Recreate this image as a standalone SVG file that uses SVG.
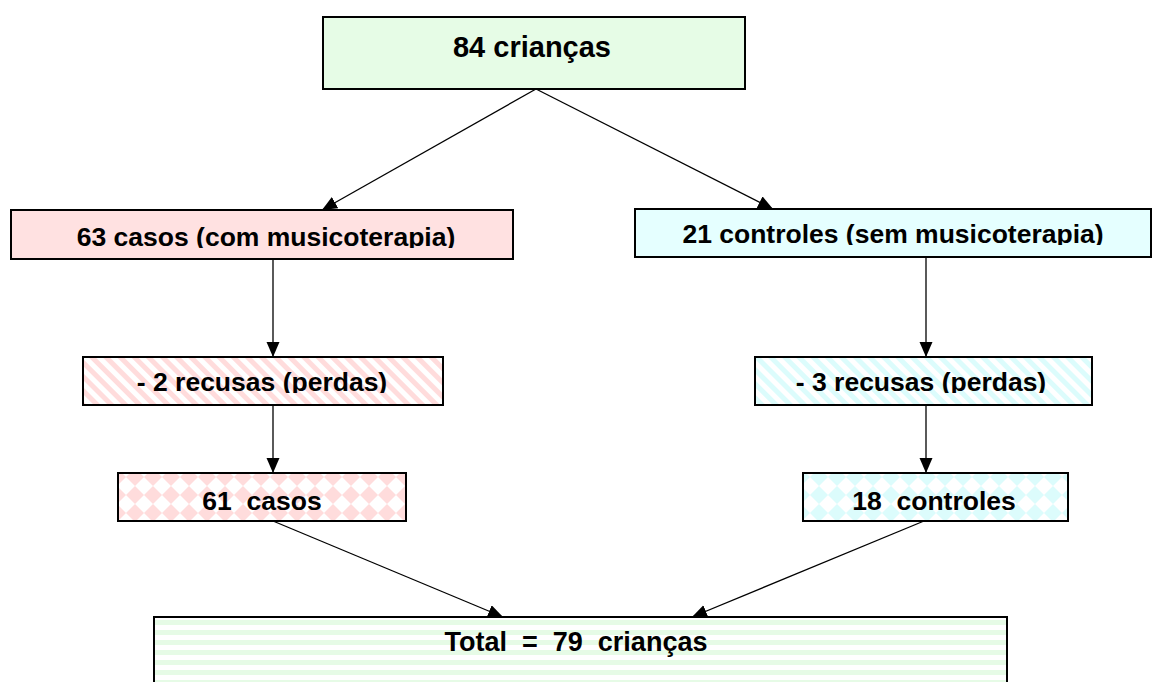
<svg xmlns="http://www.w3.org/2000/svg" width="1152" height="682" viewBox="0 0 1152 682">
<style>
.box{stroke:#000;stroke-width:2}
.t{font-family:"Liberation Sans",Arial,sans-serif;font-weight:bold;font-size:26.5px;fill:#000;text-anchor:middle;white-space:pre}
.c{stroke:#000;stroke-width:1.3;fill:none;marker-end:url(#ah)}
</style>
<defs>
<marker id="ah" markerUnits="userSpaceOnUse" markerWidth="16" markerHeight="14" refX="15" refY="6.5" orient="auto">
<path d="M0,0 L15,6.5 L0,13 Z" fill="#000"/>
</marker>
<pattern id="stripePink" patternUnits="userSpaceOnUse" width="10" height="10" patternTransform="rotate(-45)">
<rect width="10" height="10" fill="#fff"/><rect width="5" height="10" fill="#ffdcdc"/>
</pattern>
<pattern id="stripeCyan" patternUnits="userSpaceOnUse" width="10" height="10" patternTransform="rotate(-45)">
<rect width="10" height="10" fill="#fff"/><rect width="5" height="10" fill="#dcfcfc"/>
</pattern>
<pattern id="diaPink" patternUnits="userSpaceOnUse" width="18" height="18">
<rect width="18" height="18" fill="#fff"/><polygon points="9,0 18,9 9,18 0,9" fill="#ffdcdc"/>
</pattern>
<pattern id="diaCyan" patternUnits="userSpaceOnUse" width="18" height="18">
<rect width="18" height="18" fill="#fff"/><polygon points="9,0 18,9 9,18 0,9" fill="#dcfcfc"/>
</pattern>
<pattern id="hGreen" patternUnits="userSpaceOnUse" width="10" height="10">
<rect width="10" height="10" fill="#fff"/><rect width="10" height="5" fill="#e6fbe6"/>
</pattern>
<clipPath id="cl2"><rect x="0" y="200" width="600" height="48"/></clipPath>
<clipPath id="cl3"><rect x="600" y="200" width="552" height="45"/></clipPath>
<clipPath id="cl4"><rect x="0" y="350" width="600" height="43"/></clipPath>
<clipPath id="cl5"><rect x="600" y="350" width="552" height="43"/></clipPath>
</defs>
<g id="connectors">
<line class="c" x1="536" y1="89" x2="322" y2="210"/>
<line class="c" x1="536" y1="89" x2="773" y2="209"/>
<line class="c" x1="273" y1="259" x2="273" y2="357"/>
<line class="c" x1="926" y1="257" x2="926" y2="357"/>
<line class="c" x1="273" y1="405" x2="273" y2="473"/>
<line class="c" x1="926" y1="405" x2="926" y2="473"/>
<line class="c" x1="273" y1="521" x2="503" y2="617"/>
<line class="c" x1="924" y1="521" x2="692" y2="617"/>
</g>
<g id="n1">
<rect class="box" x="323" y="17" width="422" height="72" fill="#e6fce6"/>
<text class="t" x="532" y="57" style="font-size:29px">84 crianças</text>
</g>
<g id="n2">
<rect class="box" x="11" y="210" width="502" height="49" fill="#ffe1e1"/>
<text class="t" x="266" y="246" clip-path="url(#cl2)">63 casos (com musicoterapia)</text>
</g>
<g id="n3">
<rect class="box" x="635" y="209" width="516" height="48" fill="#e5ffff"/>
<text class="t" x="893" y="243" clip-path="url(#cl3)">21 controles (sem musicoterapia)</text>
</g>
<g id="n4">
<rect class="box" x="83" y="357" width="360" height="48" fill="url(#stripePink)"/>
<text class="t" x="262" y="391" clip-path="url(#cl4)">- 2 recusas (perdas)</text>
</g>
<g id="n5">
<rect class="box" x="755" y="357" width="337" height="48" fill="url(#stripeCyan)"/>
<text class="t" x="921" y="391" clip-path="url(#cl5)">- 3 recusas (perdas)</text>
</g>
<g id="n6">
<rect class="box" x="118" y="473" width="288" height="48" fill="url(#diaPink)"/>
<text class="t" x="262" y="510">61  casos</text>
</g>
<g id="n7">
<rect class="box" x="803" y="473" width="265" height="48" fill="url(#diaCyan)"/>
<text class="t" x="934" y="510">18  controles</text>
</g>
<g id="n8">
<rect class="box" x="154" y="617" width="853" height="80" fill="url(#hGreen)"/>
<text class="t" x="576" y="651" style="font-size:27px">Total  =  79  crianças</text>
</g>
</svg>
